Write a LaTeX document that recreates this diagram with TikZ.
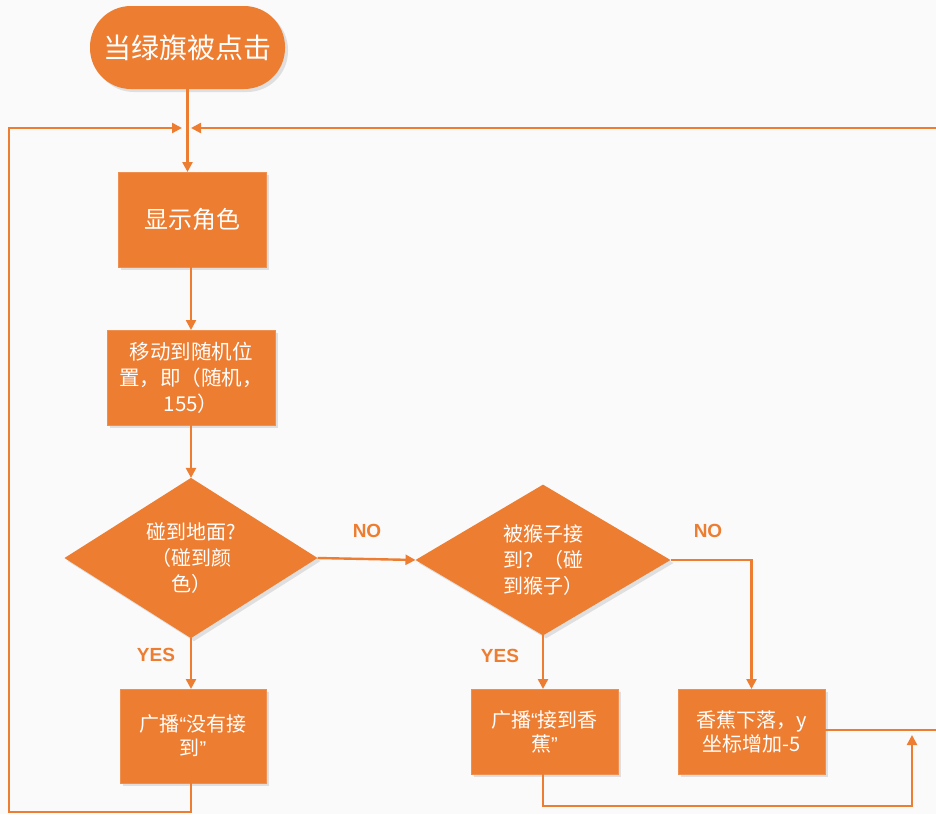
\documentclass[tikz,border=0pt]{standalone}
\usepackage{fontspec}
\newfontfamily\cjk{Noto Sans CJK SC}
\newfontfamily\lab{Liberation Sans}
\usetikzlibrary{arrows.meta,shapes.geometric,shadows}
\definecolor{org}{HTML}{ED7D31}
\definecolor{bg}{HTML}{FAFAFA}
\newcommand{\myoq}{{\lab “}}
\newcommand{\mycq}{{\lab ”}}
\begin{document}
\begin{tikzpicture}[x=1pt,y=-1pt,
  every node/.style={inner sep=0pt,outer sep=0pt},
  shad/.style={drop shadow={opacity=0.22,shadow xshift=3pt,shadow yshift=-3pt}},
  proc/.style={rectangle,fill=org,draw=org!85!white,line width=0.8pt,text=white,align=center,
    font=\cjk\fontsize{20}{24}\selectfont,shad},
  dec/.style={diamond,fill=org,text=white,align=center,
    font=\cjk\fontsize{20}{26}\selectfont,shad},
  conn/.style={draw=org,line width=2.4pt},
  arr/.style={conn,-{Triangle[length=10pt,width=10pt]}},
  lbl/.style={text=org,font=\lab\bfseries\fontsize{19}{19}\selectfont}
]
\useasboundingbox (0,0) rectangle (936,814);
\fill[bg] (0,0) rectangle (936,814);

% nodes
\node[rectangle,rounded corners=41pt,fill=org,text=white,minimum width=195pt,minimum height=83pt,
  font=\cjk\fontsize{28}{28}\selectfont,shad] (start) at (187.5,47.5) {当绿旗被点击};
\node[proc,minimum width=148pt,minimum height=95pt,font=\cjk\fontsize{24}{24}\selectfont] (show) at (192,219.5) {显示角色};
\node[proc,minimum width=168pt,minimum height=95pt,font=\cjk\fontsize{20.5}{26}\selectfont] (move) at (191,377.5) {移动到随机位\\置，即（随机，\\155）};
\node[dec,minimum width=253pt,minimum height=150pt] (d1) at (191,558) {碰到地面?\\（碰到颜\\色）};
\node[dec,minimum width=255pt,minimum height=150pt] (d2) at (543,560) {被猴子接\\到？（碰\\到猴子）};
\node[proc,minimum width=146pt,minimum height=94pt] (b3) at (193,736) {广播\myoq 没有接\\到\mycq};
\node[proc,minimum width=147pt,minimum height=85pt] (b4) at (544.5,731.5) {广播\myoq 接到香\\蕉\mycq};
\node[proc,minimum width=147pt,minimum height=85pt] (b5) at (751.5,731.5) {香蕉下落，y\\坐标增加-5};

% labels
\node[lbl] (no1) at (367,531) {NO};
\node[lbl] (no2) at (708,531) {NO};
\node[lbl] (yes1) at (156,655) {YES};
\node[lbl] (yes2) at (500,656) {YES};

% coordinates
\coordinate (lin) at (182,128);
\coordinate (rin) at (191,128);
\coordinate (lbot) at (9,812);
\coordinate (redge) at (936,128);
\coordinate (bin) at (912,735);
\coordinate (b5out) at (936,730);

% connectors
\draw[arr] (start.south) -- (start.south |- show.north);
\draw[arr] (b3.south -| d1.south) -- (d1.south |- lbot) -- (lbot) -- (lbot |- lin) -- (lin);
\draw[arr] (redge) -- (rin);
\draw[arr] (show.south -| move.north) -- (move.north);
\draw[arr] (move.south) -- (d1.north);
\draw[arr] (d1.east) -- (d2.west);
\draw[arr] (d2.east) -| (b5.north);
\draw[arr] (d1.south) -- (d1.south |- b3.north);
\draw[arr] (d2.south) -- (d2.south |- b4.north);
\draw[arr] (b4.south -| d2.south) -- ++(0,32) -| (bin);
\draw[conn] (b5.east |- b5out) -- (b5out);
\end{tikzpicture}
\end{document}
